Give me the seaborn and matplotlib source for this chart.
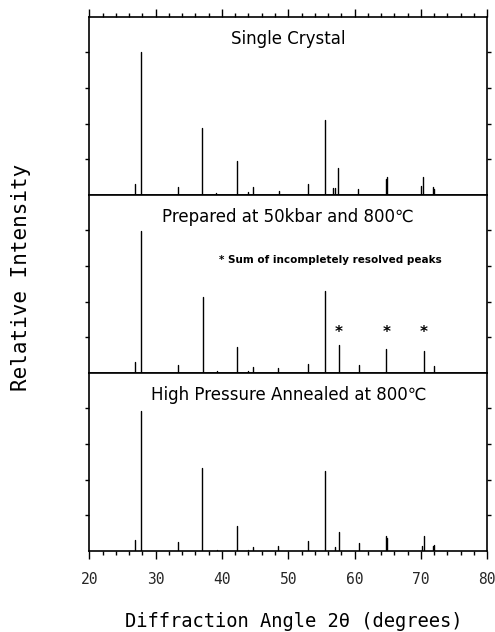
import numpy as np
import pandas as pd
import seaborn as sns
import matplotlib.pyplot as plt
from matplotlib.ticker import MultipleLocator

# Peak positions (2θ, degrees) and relative intensities
single_angle = [26.9, 27.75, 33.3, 37.0, 39.1, 42.2, 44.0, 44.7, 48.55, 52.9, 55.5,
                56.8, 57.0, 57.45, 60.5, 64.7, 64.9, 70.05, 70.35, 71.8, 72.0]
single_int = [0.31, 4.02, 0.21, 1.88, 0.05, 0.94, 0.09, 0.21, 0.11, 0.29, 2.10,
              0.20, 0.18, 0.75, 0.17, 0.45, 0.49, 0.24, 0.51, 0.21, 0.17]

prep_angle = [26.9, 27.75, 33.4, 37.1, 39.2, 42.2, 44.0, 44.7, 48.5, 53.0, 55.5,
              57.65, 60.6, 64.8, 70.45, 72.0]
prep_int = [0.30, 3.99, 0.22, 2.13, 0.04, 0.72, 0.06, 0.17, 0.15, 0.25, 2.29,
            0.79, 0.23, 0.66, 0.62, 0.18]

anneal_angle = [26.9, 27.75, 33.4, 37.05, 39.2, 42.2, 44.0, 44.7, 48.5, 53.0, 55.55,
                57.0, 57.65, 60.6, 64.7, 64.9, 70.1, 70.45, 71.8, 72.0]
anneal_int = [0.31, 3.94, 0.25, 2.34, 0.03, 0.71, 0.03, 0.12, 0.15, 0.29, 2.25,
              0.11, 0.52, 0.23, 0.42, 0.36, 0.14, 0.42, 0.14, 0.17]

panel_titles = ["Single Crystal",
                "Prepared at 50kbar and 800℃",
                "High Pressure Annealed at 800℃"]
star_angles = [57.65, 64.8, 70.45]   # sums of incompletely resolved peaks
x_ticks = [20, 30, 40, 50, 60, 70, 80]


def stick_frame(angles, heights):
    # each peak = two points (baseline, top), grouped by "peak"
    rows = []
    for i, (a, h) in enumerate(zip(angles, heights)):
        rows.append({"angle": a, "intensity": 0.0, "peak": i})
        rows.append({"angle": a, "intensity": h, "peak": i})
    return pd.DataFrame(rows)


sns.set_theme(style="ticks")
plt.rcParams["font.family"] = ["DejaVu Sans"]
MONO = "DejaVu Sans Mono"

fig, axes = plt.subplots(3, 1, figsize=(4.95, 6.32), dpi=100, sharex=True)
fig.subplots_adjust(left=0.1804, right=0.9844, bottom=0.1282, top=0.9736, hspace=0)

series = [(single_angle, single_int), (prep_angle, prep_int), (anneal_angle, anneal_int)]
for ax, (ang, inten), title in zip(axes, series, panel_titles):
    df = stick_frame(ang, inten)
    sns.lineplot(data=df, x="angle", y="intensity", units="peak", estimator=None,
                 sort=False, color="black", linewidth=1.0, ax=ax, legend=False)
    ax.set_xlim(20, 80)
    ax.set_ylim(0, 5)
    ax.set_yticks([1, 2, 3, 4])
    ax.set_yticklabels([])
    ax.set_xlabel("")
    ax.set_ylabel("")
    ax.tick_params(axis="y", left=True, right=True, direction="out",
                   length=3, width=1, color="black")
    ax.tick_params(axis="x", which="both", bottom=False, top=False,
                   labelbottom=False, direction="out", color="black")
    for s in ax.spines.values():
        s.set_linewidth(1.2)
        s.set_color("black")
    ax.text(50, 4.38, title, ha="center", va="center", fontsize=12, color="black")

# x ticks: top edge of first panel, bottom edge of last panel
for ax in (axes[0], axes[2]):
    ax.set_xticks(x_ticks)
    ax.xaxis.set_minor_locator(MultipleLocator(2))
axes[0].tick_params(axis="x", which="both", top=True, bottom=False)
axes[0].tick_params(axis="x", which="major", length=6, width=1)
axes[0].tick_params(axis="x", which="minor", length=3, width=1)
axes[2].tick_params(axis="x", which="both", bottom=True, labelbottom=True)
axes[2].tick_params(axis="x", which="major", length=6, width=1, pad=9, labelsize=10.5)
axes[2].tick_params(axis="x", which="minor", length=3, width=1)
for lab in axes[2].get_xticklabels():
    lab.set_fontfamily(MONO)

# middle panel notes
mid = axes[1]
mid.text(39.6, 3.16, "* Sum of incompletely resolved peaks", fontsize=7.5,
         fontweight="bold", va="center", ha="left", color="black")
for a in star_angles:
    mid.text(a, 1.12, "*", fontsize=11, fontweight="bold", ha="center",
             va="center", color="black")

fig.text(294 / 495, 1 - 621.7 / 632, "Diffraction Angle 2θ (degrees)", ha="center",
         va="center", fontsize=13.5, fontfamily=MONO, color="black")
fig.text(21 / 495, 1 - 277 / 632, "Relative Intensity", ha="center", va="center",
         rotation=90, fontsize=15, fontfamily=MONO, color="black")

fig.savefig("out.png", dpi=100)
